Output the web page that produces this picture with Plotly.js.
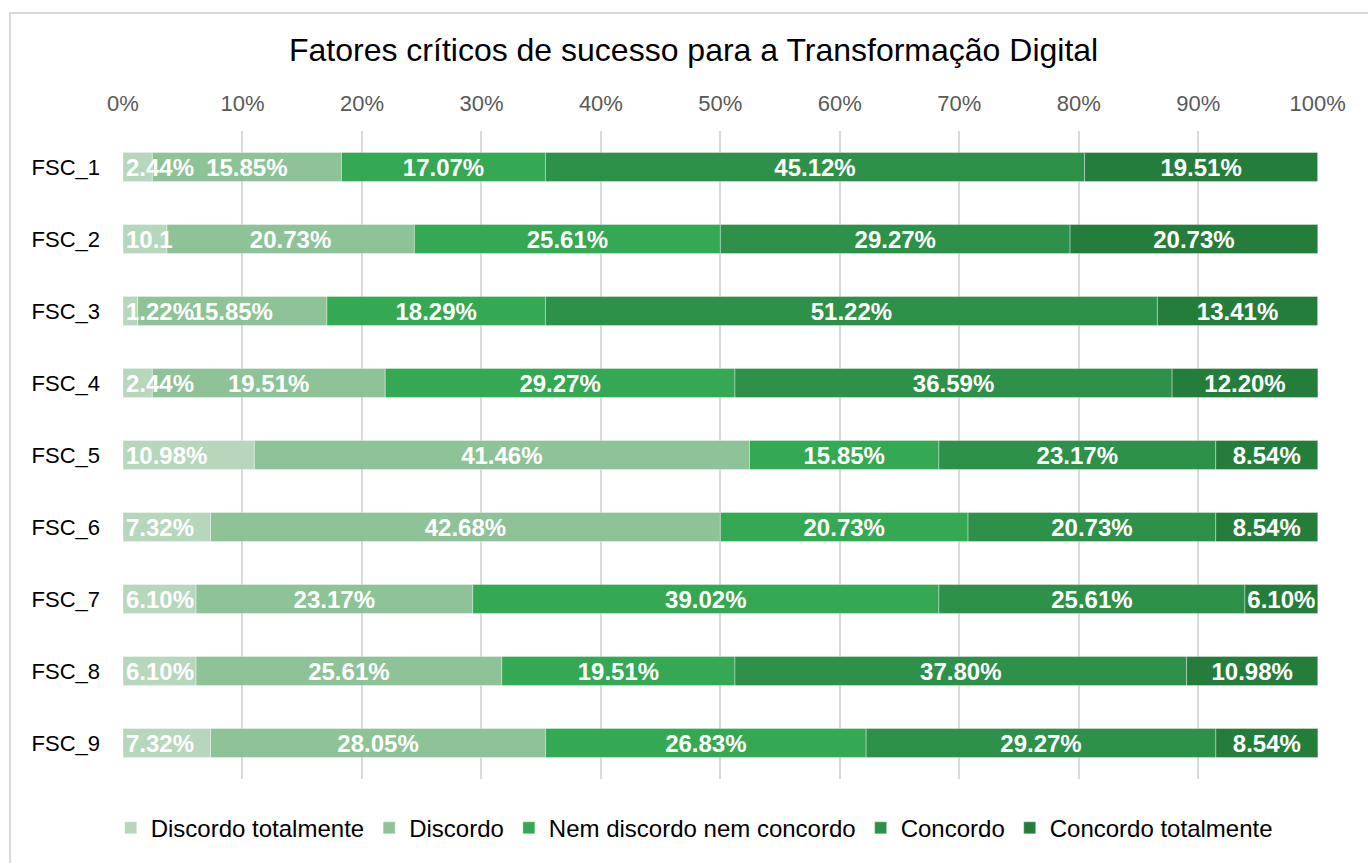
<!DOCTYPE html>
<html>
<head>
<meta charset="utf-8">
<script src="https://cdn.plot.ly/plotly-3.0.1.min.js"></script>
<style>
  html, body { margin: 0; padding: 0; width: 1368px; height: 863px; overflow: hidden; background: #fff; }
  #frame { position: absolute; left: 9px; top: 12px; width: 1400px; height: 900px; border: 2px solid #d9d9d9; box-sizing: border-box; pointer-events: none; z-index: 2; }
  #chart { position: absolute; left: 0; top: 0; width: 1368px; height: 863px; }
</style>
</head>
<body>
<div id="chart"></div>
<div id="frame"></div>
<script>
const categories = ["FSC_1", "FSC_2", "FSC_3", "FSC_4", "FSC_5", "FSC_6", "FSC_7", "FSC_8", "FSC_9"];
const seriesNames = ["Discordo totalmente", "Discordo", "Nem discordo nem concordo", "Concordo", "Concordo totalmente"];
const discordoTotalmente = [2.44, 3.66, 1.22, 2.44, 10.98, 7.32, 6.10, 6.10, 7.32];
const discordo = [15.85, 20.73, 15.85, 19.51, 41.46, 42.68, 23.17, 25.61, 28.05];
const nemDiscordoNemConcordo = [17.07, 25.61, 18.29, 29.27, 15.85, 20.73, 39.02, 19.51, 26.83];
const concordo = [45.12, 29.27, 51.22, 36.59, 23.17, 20.73, 25.61, 37.80, 29.27];
const concordoTotalmente = [19.51, 20.73, 13.41, 12.20, 8.54, 8.54, 6.10, 10.98, 8.54];
// label as printed in the source chart (FSC_2's first label appears as "10.1")
const discordoTotalmenteLabels = ["2.44%", "10.1", "1.22%", "2.44%", "10.98%", "7.32%", "6.10%", "6.10%", "7.32%"];
const xTickVals = [0, 10, 20, 30, 40, 50, 60, 70, 80, 90, 100];
const xTickText = ["0%", "10%", "20%", "30%", "40%", "50%", "60%", "70%", "80%", "90%", "100%"];
const colors = ["#b6d7bc", "#8ec397", "#35a853", "#2e9149", "#257d3b"];

const allValues = [discordoTotalmente, discordo, nemDiscordoNemConcordo, concordo, concordoTotalmente];
const fmt = v => v.toFixed(2) + "%";

// stacked bases computed from the data (cumulative sums)
const bases = allValues.map((vals, i) =>
  vals.map((_, j) => allValues.slice(0, i).reduce((s, arr) => s + arr[j], 0))
);

const makeTrace = i => ({
  type: "bar",
  orientation: "h",
  name: seriesNames[i],
  legendrank: i + 1,
  y: categories,
  x: allValues[i],
  base: bases[i],
  text: i === 0 ? discordoTotalmenteLabels : allValues[i].map(fmt),
  textposition: "inside",
  textangle: 0,
  insidetextanchor: i === 0 ? "start" : "middle",
  constraintext: "none",
  cliponaxis: false,
  textfont: { family: "Liberation Sans, Arial, sans-serif", size: 24, color: "#ffffff", weight: "bold" },
  marker: { color: colors[i], line: { color: "rgba(255,255,255,0.35)", width: 1 } },
  hoverinfo: "name+x+y"
});

// draw the first series last so its overflowing labels stay visible
const traces = [1, 2, 3, 4, 0].map(makeTrace);

const layout = {
  width: 1368,
  height: 863,
  paper_bgcolor: "#ffffff",
  plot_bgcolor: "#ffffff",
  barmode: "overlay",
  bargap: 0.595,
  margin: { l: 123, r: 50, t: 131, b: 77 },
  font: { family: "Liberation Sans, Arial, sans-serif" },
  title: {
    text: "Fatores críticos de sucesso para a Transformação Digital",
    font: { family: "Liberation Sans, Arial, sans-serif", size: 32, color: "#000000" },
    x: 0.507, xanchor: "center",
    y: 1 - 50 / 863, yanchor: "middle", yref: "container"
  },
  xaxis: {
    side: "top",
    range: [0, 100.02],
    tickvals: xTickVals,
    ticktext: xTickText,
    showgrid: true,
    gridcolor: "#d9d9d9",
    gridwidth: 2,
    zeroline: false,
    showline: false,
    ticks: "",
    ticklabelstandoff: 15,
    tickfont: { family: "Liberation Sans, Arial, sans-serif", size: 22, color: "#595959" },
    fixedrange: true
  },
  yaxis: {
    type: "category",
    autorange: "reversed",
    showgrid: false,
    zeroline: false,
    showline: false,
    ticks: "",
    ticklabelstandoff: 22,
    tickfont: { family: "Liberation Sans, Arial, sans-serif", size: 22, color: "#000000" },
    fixedrange: true
  },
  legend: {
    orientation: "h",
    x: 0.478, xanchor: "center",
    y: -0.076, yanchor: "middle",
    traceorder: "normal",
    font: { family: "Liberation Sans, Arial, sans-serif", size: 24, color: "#000000" },
    itemwidth: 30
  },
  showlegend: true
};

Plotly.newPlot("chart", traces, layout, { displayModeBar: false, staticPlot: true });
</script>
</body>
</html>
